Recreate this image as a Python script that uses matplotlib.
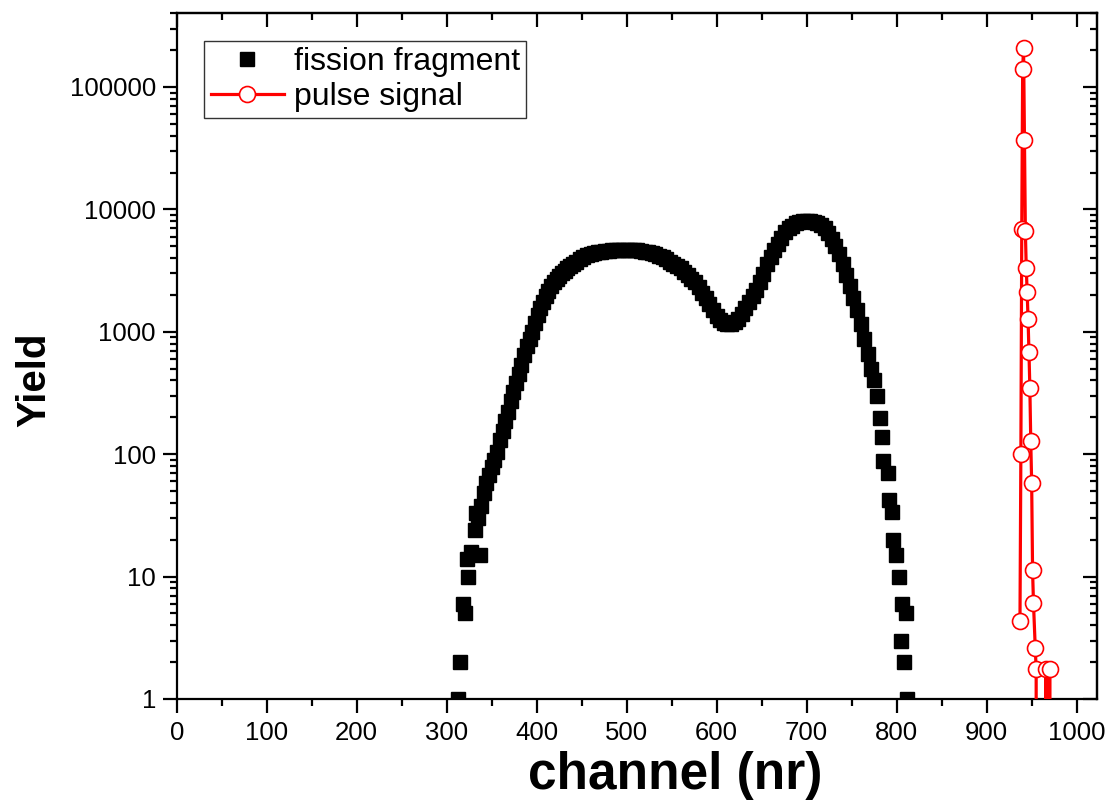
import matplotlib
matplotlib.use("Agg")
import matplotlib.pyplot as plt
from matplotlib.ticker import MultipleLocator, LogLocator, FuncFormatter, NullFormatter

plt.rcParams['font.family'] = ['Liberation Sans', 'DejaVu Sans']

# fission fragment spectrum (channel, yield)
ff_channel = [313, 315, 318, 320, 322, 324, 327, 331, 332, 337,
              335, 338, 341, 344, 347, 350, 353, 356, 359, 362, 365, 368, 371, 374, 377,
              380, 383, 386, 389, 392, 395, 398, 401, 404, 407, 410, 413, 416, 419, 422,
              425, 428, 431, 434, 437, 440, 444, 448, 452, 456, 460, 464, 468, 472, 476,
              480, 484, 488, 492, 496, 500, 504, 508, 512, 516, 520, 524, 528, 532, 536,
              540, 544, 548, 552, 556, 560, 564, 568, 572, 576, 580, 584, 588, 592, 596,
              600, 604, 608, 612, 616, 620, 624, 628, 632, 636, 640, 644, 648, 652, 656,
              660, 664, 668, 672, 676, 680, 684, 688, 692, 696, 700, 704, 708, 712, 716,
              720, 724, 728, 732, 736, 740, 744, 748, 752, 756, 760, 764, 768, 772, 775,
              778, 781, 784, 785, 790, 791, 795, 796, 799, 803, 805, 806, 808, 810, 812]
ff_yield = [1, 2, 6, 5, 14, 10, 16, 24, 33, 15,
            30, 38, 48, 58, 68, 78, 90, 105, 130, 155, 185, 220, 270, 320, 380,
            450, 540, 640, 760, 880, 1000, 1180, 1380, 1560, 1750, 1950, 2150, 2350, 2550, 2700,
            2850, 3000, 3150, 3300, 3450, 3600, 3750, 3900, 4050, 4200, 4300, 4380, 4450, 4500, 4550,
            4600, 4620, 4650, 4680, 4700, 4700, 4680, 4650, 4620, 4580, 4520, 4450, 4380, 4300, 4180,
            4050, 3900, 3750, 3600, 3450, 3300, 3100, 2900, 2700, 2550, 2300, 2080, 1870, 1680, 1500,
            1350, 1250, 1180, 1150, 1160, 1200, 1280, 1400, 1560, 1750, 1950, 2200, 2550, 2950, 3550,
            4100, 4650, 5200, 5800, 6550, 7000, 7350, 7700, 7950, 8080, 8100, 8050, 7950, 7750, 7450,
            7000, 6400, 5700, 5000, 4300, 3600, 2900, 2350, 1900, 1500, 1150, 880, 660, 500, 400,
            300, 196, 139, 88, 70, 42, 34, 20, 15, 10, 3, 6, 2, 5, 1]

# pulser peak (channel, yield); zeros drop to the axis
ps_channel = [937, 938, 939, 940, 941, 942, 943, 944, 945, 946, 947, 948, 949, 950,
              951, 952, 954, 955, 956, 960, 965, 966, 967, 969, 970, 971]
ps_yield = [4.3, 100, 6900, 140000, 210000, 37000, 6600, 3300, 2100, 1260, 680, 345, 127, 58,
            11.3, 6.1, 2.6, 1.75, 0, 0, 0, 1.75, 0, 0, 1.75, 0]

fig = plt.figure(figsize=(11.08, 8.09), dpi=100)
ax = fig.add_axes([0.1595, 0.136, 0.8309, 0.8476])

ax.set_yscale('log', nonpositive='clip')

ax.plot(ff_channel, ff_yield, ls='none', marker='s', ms=10.5, color='black',
        mec='black', label='fission fragment', zorder=3)
ax.plot(ps_channel, ps_yield, '-', color='red', lw=2.3, marker='o', ms=11.5,
        mfc='white', mec='red', mew=1.2, label='pulse signal', zorder=4)

ax.set_xlim(0, 1023)
ax.set_ylim(1, 4.0e5)

ax.xaxis.set_major_locator(MultipleLocator(100))
ax.xaxis.set_minor_locator(MultipleLocator(50))
ax.yaxis.set_major_locator(LogLocator(base=10, numticks=10))
ax.yaxis.set_minor_locator(LogLocator(base=10, subs=range(2, 10), numticks=20))
ax.yaxis.set_major_formatter(FuncFormatter(lambda v, p: '%d' % round(v)))
ax.yaxis.set_minor_formatter(NullFormatter())

for s in ax.spines.values():
    s.set_linewidth(1.6)

ax.tick_params(which='both', width=1.6, labelsize=18.5)
ax.tick_params(which='major', length=10)
ax.tick_params(which='minor', length=5)
ax.tick_params(axis='x', which='both', direction='out', pad=6)
ax.tick_params(axis='y', which='both', direction='out', pad=5)

# mirrored ticks on top and right, pointing in
top = ax.secondary_xaxis('top')
top.xaxis.set_major_locator(MultipleLocator(100))
top.xaxis.set_minor_locator(MultipleLocator(50))
top.tick_params(which='both', direction='in', width=1.6, labeltop=False)
top.tick_params(which='major', length=10)
top.tick_params(which='minor', length=5)
top.spines['top'].set_linewidth(1.6)

right = ax.secondary_yaxis('right')
right.yaxis.set_major_locator(LogLocator(base=10, numticks=10))
right.yaxis.set_minor_locator(LogLocator(base=10, subs=range(2, 10), numticks=20))
right.tick_params(which='both', direction='in', width=1.6, labelright=False)
right.tick_params(which='major', length=10)
right.tick_params(which='minor', length=5)
right.spines['right'].set_linewidth(1.6)

ax.set_xlabel('channel (nr)', fontsize=37, fontweight='bold')
ax.set_ylabel('Yield', fontsize=29, fontweight='bold')
ax.xaxis.set_label_coords(0.541, -0.112, transform=ax.transAxes)
ax.xaxis.label.set_va('center')
ax.yaxis.set_label_coords(-0.155, 0.465, transform=ax.transAxes)
ax.yaxis.label.set_va('center')

leg = ax.legend(loc='upper left', bbox_to_anchor=(0.03, 0.96), fontsize=23,
                frameon=True, fancybox=False, borderpad=0.2, labelspacing=0.15,
                handlelength=2.3, handletextpad=0.3, borderaxespad=0)
leg.get_frame().set_edgecolor('black')
leg.get_frame().set_linewidth(1.0)

plt.savefig('out.png', dpi=100)
